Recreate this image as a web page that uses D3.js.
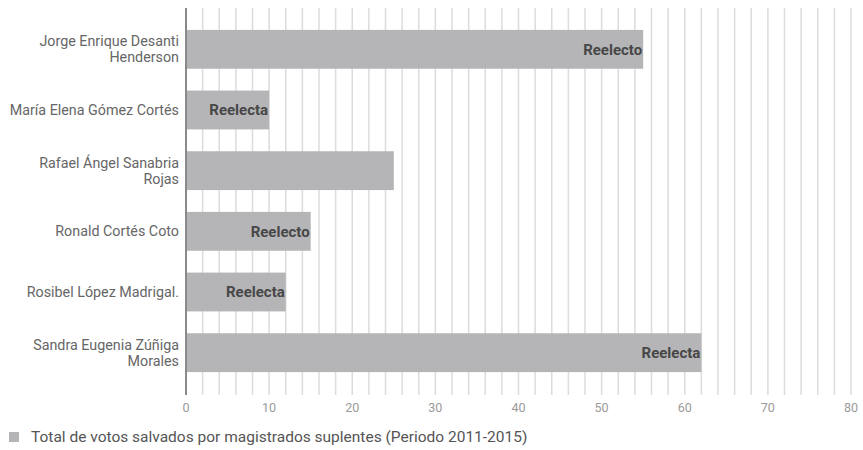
<!DOCTYPE html>
<html>
<head>
<meta charset="utf-8">
<script src="https://cdn.jsdelivr.net/npm/d3@7/dist/d3.min.js"></script>
<style>
  html, body { margin: 0; padding: 0; background: #fff; }
  svg { display: block; font-family: Roboto, "Noto Sans", sans-serif; }
</style>
</head>
<body>
<svg id="chart" width="863" height="450"></svg>
<script>
// Magistrados suplentes y votos salvados, periodo 2011-2015
const names = [
  ["Jorge Enrique Desanti", "Henderson"],
  ["María Elena Gómez Cortés"],
  ["Rafael Ángel Sanabria", "Rojas"],
  ["Ronald Cortés Coto"],
  ["Rosibel López Madrigal."],
  ["Sandra Eugenia Zúñiga", "Morales"]
];
const votes = [55, 10, 25, 15, 12, 62];
const status = ["Reelecto", "Reelecta", "", "Reelecto", "Reelecta", "Reelecta"];
const xTicks = [0, 10, 20, 30, 40, 50, 60, 70, 80];
const legendLabel = "Total de votos salvados por magistrados suplentes (Periodo 2011-2015)";

const svg = d3.select("#chart");
const left = 186, right = 851, gridTop = 8, gridBottom = 395;

const x = d3.scaleLinear().domain([0, 80]).range([left, right]);
const y = d3.scaleBand().domain(d3.range(names.length)).range([19, 383])
  .paddingInner(0.36).paddingOuter(0.18);

// vertical grid every 2 votes
svg.append("g").selectAll("line")
  .data(d3.range(2, 81, 2))
  .join("line")
  .attr("x1", d => x(d)).attr("x2", d => x(d))
  .attr("y1", gridTop).attr("y2", gridBottom)
  .attr("stroke", "#dcdcdc").attr("stroke-width", 1.5);

// bars
svg.append("g").selectAll("rect")
  .data(votes)
  .join("rect")
  .attr("x", x(0))
  .attr("y", (d, i) => y(i))
  .attr("width", d => x(d) - x(0))
  .attr("height", y.bandwidth())
  .attr("fill", "#b5b5b7");

// zero line
svg.append("line")
  .attr("x1", x(0)).attr("x2", x(0))
  .attr("y1", gridTop).attr("y2", gridBottom)
  .attr("stroke", "#8a8a8a").attr("stroke-width", 2);

// bar status labels
svg.append("g").selectAll("text")
  .data(votes)
  .join("text")
  .attr("x", d => x(d) - 1)
  .attr("y", (d, i) => y(i) + y.bandwidth() / 2)
  .attr("dy", "0.35em")
  .attr("text-anchor", "end")
  .attr("font-size", 15)
  .attr("font-weight", "bold")
  .attr("fill", "#474747")
  .text((d, i) => status[i]);

// category labels
const cat = svg.append("g").selectAll("text")
  .data(names)
  .join("text")
  .attr("text-anchor", "end")
  .attr("font-size", 14.3)
  .attr("fill", "#666")
  .attr("transform", (d, i) => `translate(179,${y(i) + y.bandwidth() / 2})`);
cat.each(function(lines) {
  const t = d3.select(this);
  const lh = 16;
  const off = -(lines.length - 1) * lh / 2;
  lines.forEach((s, k) => {
    t.append("tspan").attr("x", 0).attr("y", off + k * lh).attr("dy", "0.35em").text(s);
  });
});

// x axis tick labels
svg.append("g").selectAll("text")
  .data(xTicks)
  .join("text")
  .attr("x", d => x(d))
  .attr("y", 411.5)
  .attr("text-anchor", "middle")
  .attr("font-size", 12.5)
  .attr("fill", "#9a9a9a")
  .text(d => d);

// legend
svg.append("rect").attr("x", 9).attr("y", 432).attr("width", 10).attr("height", 10).attr("fill", "#b5b5b7");
svg.append("text").attr("x", 31).attr("y", 442)
  .attr("font-size", 15.5).attr("fill", "#555").text(legendLabel);
</script>
</body>
</html>
